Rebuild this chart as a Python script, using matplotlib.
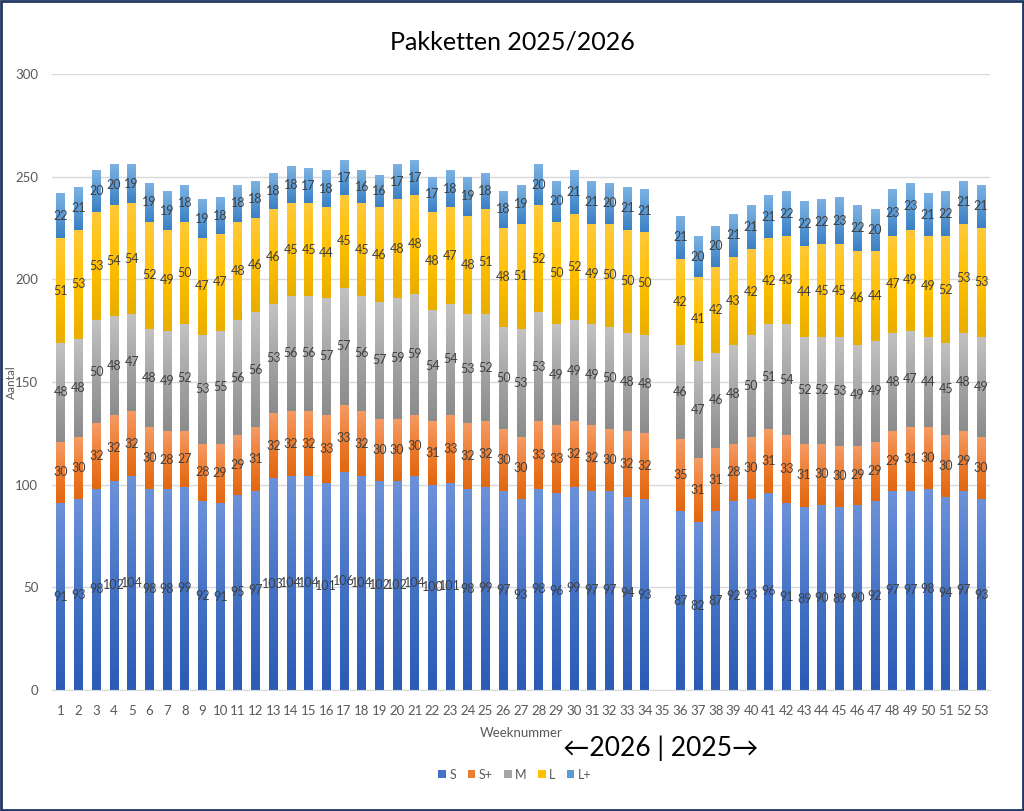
import matplotlib.pyplot as plt
import numpy as np
from matplotlib.colors import LinearSegmentedColormap

plt.rcParams['font.family'] = ['Lato', 'DejaVu Sans']

weeks = [str(w) for w in range(1, 54)]

# week 35 has no data (None)
S = [91, 93, 98, 102, 104, 98, 98, 99, 92, 91, 95, 97, 103, 104, 104, 101, 106, 104,
     102, 102, 104, 100, 101, 98, 99, 97, 93, 98, 96, 99, 97, 97, 94, 93, None,
     87, 82, 87, 92, 93, 96, 91, 89, 90, 89, 90, 92, 97, 97, 98, 94, 97, 93]
S_plus = [30, 30, 32, 32, 32, 30, 28, 27, 28, 29, 29, 31, 32, 32, 32, 33, 33, 32,
          30, 30, 30, 31, 33, 32, 32, 30, 30, 33, 33, 32, 32, 30, 32, 32, None,
          35, 31, 31, 28, 30, 31, 33, 31, 30, 30, 29, 29, 29, 31, 30, 30, 29, 30]
M = [48, 48, 50, 48, 47, 48, 49, 52, 53, 55, 56, 56, 53, 56, 56, 57, 57, 56,
     57, 59, 59, 54, 54, 53, 52, 50, 53, 53, 49, 49, 49, 50, 48, 48, None,
     46, 47, 46, 48, 50, 51, 54, 52, 52, 53, 49, 49, 48, 47, 44, 45, 48, 49]
L = [51, 53, 53, 54, 54, 52, 49, 50, 47, 47, 48, 46, 46, 45, 45, 44, 45, 45,
     46, 48, 48, 48, 47, 48, 51, 48, 51, 52, 50, 52, 49, 50, 50, 50, None,
     42, 41, 42, 43, 42, 42, 43, 44, 45, 45, 46, 44, 47, 49, 49, 52, 53, 53]
L_plus = [22, 21, 20, 20, 19, 19, 19, 18, 19, 18, 18, 18, 18, 18, 17, 18, 17, 16,
          16, 17, 17, 17, 18, 19, 18, 18, 19, 20, 20, 21, 21, 20, 21, 21, None,
          21, 20, 20, 21, 21, 21, 22, 22, 22, 23, 22, 20, 23, 23, 21, 22, 21, 21]

# name, values, base colour, (bottom, middle, top) of the gradient
series = [('S', S, '#4472C4', ('#2C5BB5', '#4472C4', '#6C91D9')),
          ('S+', S_plus, '#ED7D31', ('#E2670F', '#ED7D31', '#F59B66')),
          ('M', M, '#A5A5A5', ('#8C8C8C', '#A5A5A5', '#C2C2C2')),
          ('L', L, '#FFC000', ('#E8AE00', '#FFC000', '#FFC93A')),
          ('L+', L_plus, '#5B9BD5', ('#3C80C4', '#5B9BD5', '#7DB2E2'))]

fig = plt.figure(figsize=(10.24, 8.11), dpi=100)
ax = fig.add_axes([0.0508, 0.1492, 0.916, 0.7596])

grad = np.linspace(0, 1, 64).reshape(-1, 1)
x = np.arange(1, 54)
width = 0.5
bottom = np.zeros(53)
for name, vals, color, shades in series:
    v = np.array([np.nan if a is None else a for a in vals], dtype=float)
    cmap = LinearSegmentedColormap.from_list(name, shades)
    bars = ax.bar(x, np.nan_to_num(v), width=width, bottom=bottom, color=color,
                  label=name, zorder=2)
    for bar, xi, b, h in zip(bars, x, bottom, v):
        if np.isnan(h):
            continue
        im = ax.imshow(grad, cmap=cmap, origin='lower', aspect='auto', zorder=2.1,
                       extent=(xi - width / 2, xi + width / 2, b, b + h))
        im.set_clip_path(bar)
        ax.text(xi, b + h / 2, '%d' % h, ha='center', va='center',
                fontsize=9, color='#404040', zorder=3)
    bottom = bottom + np.nan_to_num(v)

ax.set_xlim(0.5, 53.5)
ax.set_ylim(0, 300)
ax.set_yticks(range(0, 301, 50))
ax.set_xticks(x)
ax.set_xticklabels(weeks)
ax.tick_params(axis='both', length=0, labelsize=9.5, colors='#595959')
ax.tick_params(axis='x', pad=11)
ax.tick_params(axis='y', pad=10)
ax.grid(axis='y', color='#D9D9D9', linewidth=1, zorder=0)
for s in ['top', 'right', 'left']:
    ax.spines[s].set_visible(False)
ax.spines['bottom'].set_color('#D9D9D9')

ax.set_ylabel('Aantal', fontsize=8.5, color='#595959', labelpad=0)
ax.yaxis.set_label_coords(-0.037, 0.5)

fig.text(0.5, 0.948, 'Pakketten 2025/2026', ha='center', va='center', fontsize=18, color='black')
fig.text(0.509, 0.096, 'Weeknummer', ha='center', va='center', fontsize=9.5, color='#595959')
fig.text(0.645, 0.077, '←2026 | 2025→', ha='center', va='center', fontsize=19, color='black')

leg = fig.legend(loc='center', bbox_to_anchor=(0.503, 0.045), ncol=5, frameon=False,
                 fontsize=9, handlelength=0.6, handleheight=0.6, columnspacing=0.9,
                 handletextpad=0.3, labelcolor='#595959')

# outer border
fig.patches.append(plt.Rectangle((0.001, 0.001), 0.998, 0.998, transform=fig.transFigure,
                                 fill=False, edgecolor='#1F3864', linewidth=2))

plt.savefig('out.png', dpi=100)
